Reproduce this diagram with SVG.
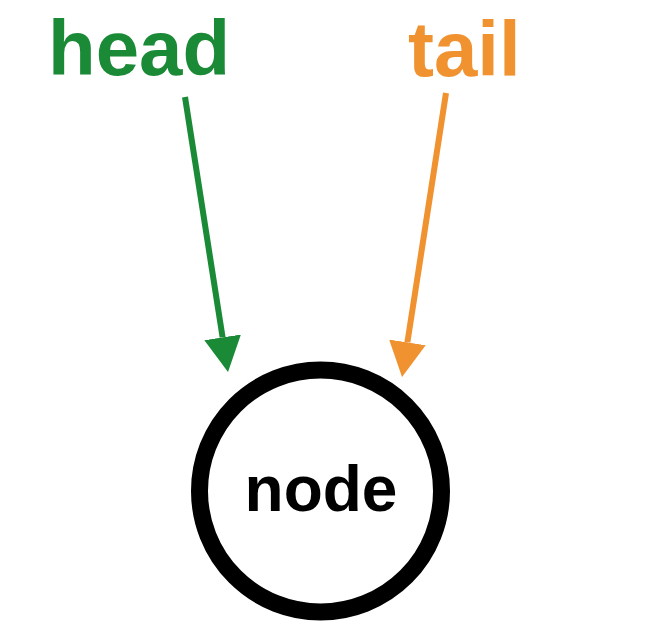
<svg xmlns="http://www.w3.org/2000/svg" width="652" height="640" viewBox="0 0 652 640">
<style>
.lbl{font-family:"Liberation Sans",Arial,Helvetica,sans-serif;font-weight:bold;font-size:78px}
.head{fill:#1a8a36}
.tail{fill:#f0922f}
.node{fill:none;stroke:#000;stroke-width:17}
.ntext{font-family:"Liberation Sans",Arial,Helvetica,sans-serif;font-weight:bold;font-size:64px;fill:#000}
.conn{stroke-width:6;fill:none}
</style>
<defs>
<marker id="ah-green" markerUnits="userSpaceOnUse" viewBox="0 0 35 37" refX="0" refY="18.5" markerWidth="35" markerHeight="37" orient="auto">
<path d="M0,0 L35,18.5 L0,37 Z" fill="#1a8a36"/>
</marker>
<marker id="ah-orange" markerUnits="userSpaceOnUse" viewBox="0 0 35 37" refX="0" refY="18.5" markerWidth="35" markerHeight="37" orient="auto">
<path d="M0,0 L35,18.5 L0,37 Z" fill="#f0922f"/>
</marker>
</defs>
<rect width="652" height="640" fill="#fff"/>
<g id="connectors">
<line class="conn" x1="185" y1="97" x2="222.6" y2="337.4" stroke="#1a8a36" marker-end="url(#ah-green)"/>
<line class="conn" x1="446" y1="93" x2="407.4" y2="342.4" stroke="#f0922f" marker-end="url(#ah-orange)"/>
</g>
<g id="head">
<text class="lbl head" x="48" y="75">head</text>
</g>
<g id="tail">
<text class="lbl tail" x="408" y="76">tail</text>
</g>
<g id="node">
<circle class="node" cx="320.5" cy="491" r="121"/>
<text class="ntext" x="321" y="511" text-anchor="middle">node</text>
</g>
</svg>
